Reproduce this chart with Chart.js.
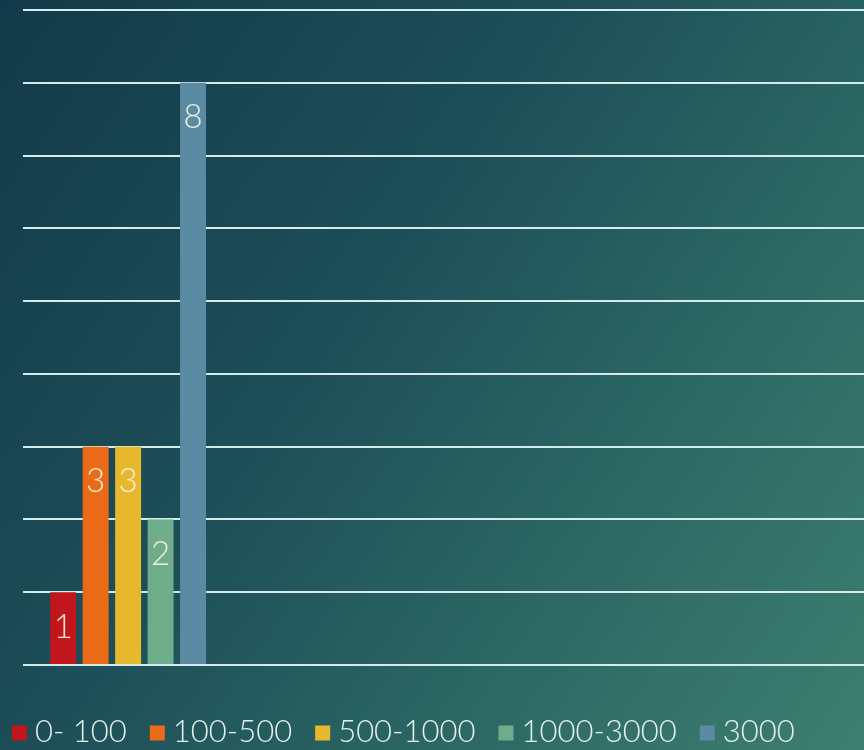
<!DOCTYPE html>
<html>
<head>
<meta charset="utf-8">
<script src="https://cdn.jsdelivr.net/npm/chart.js@4/dist/chart.umd.min.js"></script>
<style>
  html, body { margin: 0; padding: 0; width: 864px; height: 750px; overflow: hidden; }
  body { background: linear-gradient(125deg, #133a4a 0%, #1d4e58 40%, #2c6864 70%, #3e7f70 100%); }
  #wrap { position: relative; width: 864px; height: 750px; }
</style>
</head>
<body>
<div id="wrap"><canvas id="c" width="864" height="750"></canvas></div>
<script>
// ---- data ----
const categories = ['1', '2', '3', '4'];
const seriesNames = ['0- 100', '100-500', '500-1000', '1000-3000', '3000'];
const seriesValues = [
  [1, null, null, null],
  [3, null, null, null],
  [3, null, null, null],
  [2, null, null, null],
  [8, null, null, null]
];
const seriesColors = ['#c0161c', '#ea6a18', '#e8b82c', '#6eac8c', '#5a8ba2'];
const yTicks = { min: 0, max: 9, step: 1 };

const FONT = 'Lato, "Open Sans", "DejaVu Sans", sans-serif';

const datasets = seriesNames.map((name, i) => ({
  label: name,
  data: seriesValues[i],
  backgroundColor: seriesColors[i],
  borderWidth: 0,
  barPercentage: 0.8,
  categoryPercentage: 0.772
}));

const valueLabels = {
  id: 'valueLabels',
  afterDatasetsDraw(chart) {
    const ctx = chart.ctx;
    ctx.save();
    ctx.font = '300 33px ' + FONT;
    ctx.fillStyle = 'rgba(250,246,232,0.92)';
    ctx.textAlign = 'center';
    ctx.textBaseline = 'middle';
    chart.data.datasets.forEach((ds, di) => {
      const meta = chart.getDatasetMeta(di);
      meta.data.forEach((bar, idx) => {
        const v = ds.data[idx];
        if (v === null || v === undefined) return;
        ctx.fillText(String(v), bar.x, bar.y + 35);
      });
    });
    ctx.restore();
  }
};

const bottomLegend = {
  id: 'bottomLegend',
  afterDraw(chart) {
    const ctx = chart.ctx;
    ctx.save();
    ctx.font = '300 31px ' + FONT;
    ctx.textBaseline = 'middle';
    ctx.textAlign = 'left';
    let x = 12;
    const yc = 732;
    const box = 15;
    chart.data.datasets.forEach(ds => {
      ctx.fillStyle = ds.backgroundColor;
      ctx.fillRect(x, yc - box / 2 + 1, box, box);
      x += box + 8;
      ctx.fillStyle = 'rgba(236,248,246,0.95)';
      ctx.fillText(ds.label, x, yc);
      x += ctx.measureText(ds.label).width + 23;
    });
    ctx.restore();
  }
};

new Chart(document.getElementById('c'), {
  type: 'bar',
  data: { labels: categories, datasets },
  options: {
    responsive: false,
    animation: false,
    layout: { padding: { left: 23, right: 0, top: 10, bottom: 85 } },
    plugins: { legend: { display: false }, tooltip: { enabled: false } },
    scales: {
      x: { display: false },
      y: {
        min: yTicks.min, max: yTicks.max,
        ticks: { display: false, stepSize: yTicks.step },
        border: { display: false },
        grid: { color: '#d2ecec', lineWidth: 2, drawTicks: false }
      }
    }
  },
  plugins: [valueLabels, bottomLegend]
});
</script>
</body>
</html>
